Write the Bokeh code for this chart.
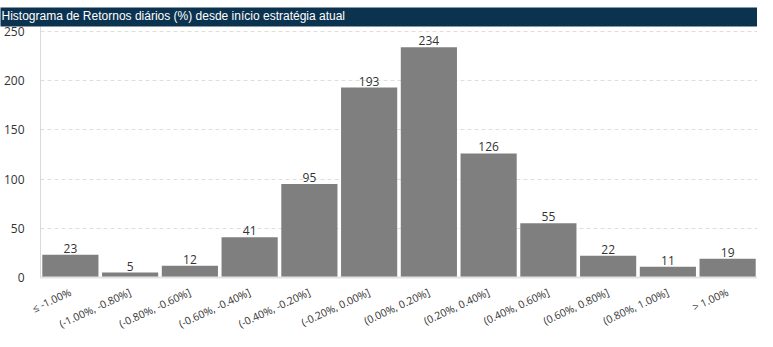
from bokeh.plotting import figure
from bokeh.models import ColumnDataSource, FactorRange, Range1d, FixedTicker, Title
from bokeh.core.properties import value
from bokeh.embed import file_html
from bokeh.resources import INLINE
import math

title_text = "Histograma de Retornos diários (%) desde início estratégia atual"
categories = ["≤ -1.00%", "(-1.00%, -0.80%]", "(-0.80%, -0.60%]", "(-0.60%, -0.40%]",
              "(-0.40%, -0.20%]", "(-0.20%, 0.00%]", "(0.00%, 0.20%]", "(0.20%, 0.40%]",
              "(0.40%, 0.60%]", "(0.60%, 0.80%]", "(0.80%, 1.00%]", "> 1.00%"]
counts = [23, 5, 12, 41, 95, 193, 234, 126, 55, 22, 11, 19]
y_ticks = [0, 50, 100, 150, 200, 250]

FONT = "Open Sans"

src = ColumnDataSource(dict(cat=categories, n=counts, lbl=[str(c) for c in counts]))

p = figure(width=757, height=339, x_range=FactorRange(*categories, range_padding=0),
           y_range=Range1d(0, 255), output_backend="svg", toolbar_location=None,
           min_border_left=40, min_border_right=0, min_border_top=26, min_border_bottom=62)
p.outline_line_color = None

t = Title(text=title_text, text_color="white", text_font="Liberation Sans", text_font_size="12px",
          text_font_style="normal", background_fill_color="#0b3350", align="left",
          offset=-40, standoff=0, padding=(1, 430, 1, 4))
p.add_layout(t, "above")

p.vbar(x="cat", top="n", width=0.94, source=src, fill_color="#7f7f7f", line_color=None)
p.text(x="cat", y="n", text="lbl", source=src, text_align="center", text_baseline="bottom",
       y_offset=-2, text_font=value(FONT), text_font_size="12px", text_color="#333333")

p.xgrid.grid_line_color = None
p.ygrid.grid_line_color = "#dedede"
p.ygrid.grid_line_dash = "4 3"
p.yaxis.ticker = FixedTicker(ticks=y_ticks)

for ax in (p.xaxis, p.yaxis):
    ax.major_tick_line_color = None
    ax.minor_tick_line_color = None
    ax.major_label_text_font = FONT
    ax.major_label_text_font_size = "12px"
    ax.major_label_text_color = "#333333"
p.yaxis.axis_line_color = "#d9d9d9"
p.yaxis.major_label_standoff = 10
p.xaxis.axis_line_color = "#e3e3e3"
p.xaxis.axis_line_width = 2
p.xaxis.major_label_orientation = math.radians(25)
p.xaxis.major_label_text_font_size = "10.5px"
p.xaxis.major_label_standoff = 8

open("out.html", "w").write(file_html(p, INLINE))
